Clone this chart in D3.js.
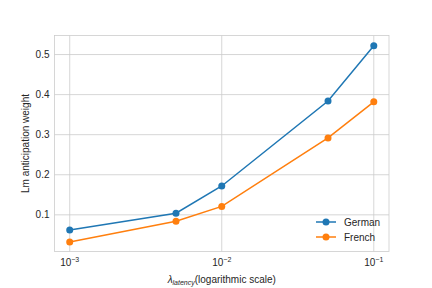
<!DOCTYPE html>
<html>
<head>
<meta charset="utf-8">
<script src="https://cdn.jsdelivr.net/npm/d3@7"></script>
<style>
  body { margin: 0; background: #fff; }
  text { font-family: "Liberation Sans", Arial, sans-serif; fill: #262626; }
</style>
</head>
<body>
<div id="chart"></div>
<script>
var lambdas = [0.001, 0.005, 0.01, 0.05, 0.1];
var german = [0.062, 0.104, 0.172, 0.384, 0.522];
var french = [0.032, 0.084, 0.121, 0.292, 0.382];
var seriesNames = ["German", "French"];
var colors = ["#1f77b4", "#ff7f0e"];
var xTicks = [0.001, 0.01, 0.1];
var yTicks = [0.1, 0.2, 0.3, 0.4, 0.5];

var width = 432, height = 288;
var plotLeft = 54.5, plotRight = 389, plotTop = 35.5, plotBottom = 251.5;

var svg = d3.select("#chart").append("svg")
  .attr("width", width)
  .attr("height", height);

var x = d3.scaleLog()
  .domain([Math.pow(10, -3.1), Math.pow(10, -0.9)])
  .range([plotLeft, plotRight]);
var y = d3.scaleLinear()
  .domain([0.0085, 0.5475])
  .range([plotBottom, plotTop]);

// grid
svg.append("g").selectAll("line")
  .data(xTicks).enter().append("line")
  .attr("x1", d => x(d)).attr("x2", d => x(d))
  .attr("y1", plotTop).attr("y2", plotBottom)
  .style("stroke", "#cccccc").style("stroke-width", 0.8);
svg.append("g").selectAll("line")
  .data(yTicks).enter().append("line")
  .attr("x1", plotLeft).attr("x2", plotRight)
  .attr("y1", d => y(d)).attr("y2", d => y(d))
  .style("stroke", "#cccccc").style("stroke-width", 0.8);

// frame
svg.append("rect")
  .attr("x", plotLeft).attr("y", plotTop)
  .attr("width", plotRight - plotLeft).attr("height", plotBottom - plotTop)
  .style("fill", "none").style("stroke", "#cccccc").style("stroke-width", 0.8);

// y tick labels
svg.append("g").selectAll("text")
  .data(yTicks).enter().append("text")
  .attr("x", plotLeft - 5)
  .attr("y", d => y(d))
  .attr("dy", "0.35em")
  .attr("text-anchor", "end")
  .style("font-size", "10px")
  .text(d => d3.format(".1f")(d));

// x tick labels 10^n
var xl = svg.append("g").selectAll("text")
  .data(xTicks).enter().append("text")
  .attr("x", d => x(d))
  .attr("y", 266)
  .attr("text-anchor", "middle")
  .style("font-size", "10px");
xl.append("tspan").text("10");
xl.append("tspan")
  .attr("dy", -4)
  .style("font-size", "7px")
  .text(d => "\u2212" + Math.round(-Math.log10(d)));

// axis labels
var xlab = svg.append("text")
  .attr("x", (plotLeft + plotRight) / 2)
  .attr("y", 283)
  .attr("text-anchor", "middle")
  .style("font-size", "10px");
xlab.append("tspan").style("font-style", "italic").text("\u03bb");
xlab.append("tspan").attr("dy", 2).style("font-style", "italic").style("font-size", "7px").text("latency");
xlab.append("tspan").attr("dy", -2).text("(logarithmic scale)");

svg.append("text")
  .attr("transform", "translate(29," + ((plotTop + plotBottom) / 2) + ") rotate(-90)")
  .attr("text-anchor", "middle")
  .style("font-size", "10px")
  .text("Lm anticipation weight");

// lines
var line = d3.line()
  .x((d, i) => x(lambdas[i]))
  .y(d => y(d));

[german, french].forEach(function(vals, k) {
  svg.append("path")
    .datum(vals)
    .attr("d", line)
    .style("fill", "none")
    .style("stroke", colors[k])
    .style("stroke-width", 1.5);
  svg.append("g").selectAll("circle")
    .data(vals).enter().append("circle")
    .attr("cx", (d, i) => x(lambdas[i]))
    .attr("cy", d => y(d))
    .attr("r", 3.5)
    .style("fill", colors[k]);
});

// legend
var lg = svg.append("g").selectAll("g")
  .data(seriesNames).enter().append("g")
  .attr("transform", (d, i) => "translate(0," + (222 + i * 15) + ")");
lg.append("line")
  .attr("x1", 316).attr("x2", 336)
  .style("stroke", (d, i) => colors[i]).style("stroke-width", 1.5);
lg.append("circle")
  .attr("cx", 326).attr("r", 3.5)
  .style("fill", (d, i) => colors[i]);
lg.append("text")
  .attr("x", 344).attr("dy", "0.35em")
  .style("font-size", "10px")
  .text(d => d);
</script>
</body>
</html>
